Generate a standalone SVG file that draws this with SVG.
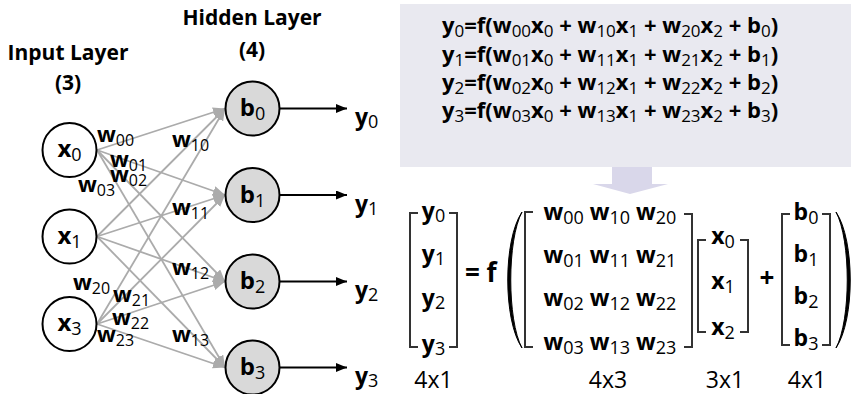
<svg xmlns="http://www.w3.org/2000/svg" width="853" height="394" viewBox="0 0 853 394">
  <style>
    text { font-family: "Open Sans", "Liberation Sans", sans-serif; font-weight: 700; fill: #000; }
    .title { font-size: 21px; }
    .node { font-size: 24px; }
    .w { font-size: 22px; }
    .eq { font-size: 22px; }
    .m { font-size: 23px; }
    .dim { font-size: 23px; font-weight: 400; }
    .s { font-size: 17px; font-weight: 400; }
    .ws { font-size: 16px; font-weight: 400; }
    .ms { font-size: 18px; font-weight: 400; }
    .inp { fill: #fff; stroke: #000; stroke-width: 2; }
    .hid { fill: #d9d9d9; stroke: #000; stroke-width: 2; }
    .edge { stroke: #ababab; stroke-width: 1.8; fill: none; }
    .out { stroke: #000; stroke-width: 1.8; fill: none; }
    .br { stroke: #333; stroke-width: 2; fill: none; }
  </style>
  <defs>
    <marker id="grayHead" markerUnits="userSpaceOnUse" markerWidth="12" markerHeight="10" refX="12" refY="5" orient="auto">
      <path d="M0,0 L12,5 L0,10 Z" fill="#ababab"/>
    </marker>
    <marker id="blackHead" markerUnits="userSpaceOnUse" markerWidth="11" markerHeight="9" refX="11" refY="4.5" orient="auto">
      <path d="M0,0 L11,4.5 L0,9 Z" fill="#000"/>
    </marker>
  </defs>

  <!-- layer titles -->
  <text class="title" x="252" y="25" text-anchor="middle">Hidden Layer</text>
  <text class="title" x="252" y="57" text-anchor="middle">(4)</text>
  <text class="title" x="68" y="60" text-anchor="middle">Input Layer</text>
  <text class="title" x="68" y="90" text-anchor="middle">(3)</text>

  <!-- weighted connections input -> hidden, and outputs -->
  <g id="connectors">
    <g class="edge" marker-end="url(#grayHead)">
      <line x1="97" y1="150" x2="225" y2="108.5"/>
      <line x1="97" y1="150" x2="225" y2="195"/>
      <line x1="97" y1="150" x2="225" y2="281.5"/>
      <line x1="97" y1="150" x2="225" y2="367.5"/>
      <line x1="97" y1="236.5" x2="225" y2="108.5"/>
      <line x1="97" y1="236.5" x2="225" y2="195"/>
      <line x1="97" y1="236.5" x2="225" y2="281.5"/>
      <line x1="97" y1="236.5" x2="225" y2="367.5"/>
      <line x1="97" y1="324" x2="225" y2="108.5"/>
      <line x1="97" y1="324" x2="225" y2="195"/>
      <line x1="97" y1="324" x2="225" y2="281.5"/>
      <line x1="97" y1="324" x2="225" y2="367.5"/>
    </g>
    <g class="out" marker-end="url(#blackHead)">
      <line x1="280" y1="108.5" x2="347" y2="108.5"/>
      <line x1="280" y1="195" x2="347" y2="195"/>
      <line x1="280" y1="281.5" x2="347" y2="281.5"/>
      <line x1="280" y1="367.5" x2="347" y2="367.5"/>
    </g>
  </g>

  <!-- weight labels -->
  <g id="weights">
    <text x="97" y="142" class="w">w<tspan class="ws" dy="4">00</tspan></text>
    <text x="172" y="147" class="w">w<tspan class="ws" dy="4">10</tspan></text>
    <text x="110" y="167" class="w">w<tspan class="ws" dy="4">01</tspan></text>
    <text x="110" y="182" class="w">w<tspan class="ws" dy="4">02</tspan></text>
    <text x="78" y="192" class="w">w<tspan class="ws" dy="4">03</tspan></text>
    <text x="172" y="215" class="w">w<tspan class="ws" dy="4">11</tspan></text>
    <text x="172" y="275" class="w">w<tspan class="ws" dy="4">12</tspan></text>
    <text x="73" y="290" class="w">w<tspan class="ws" dy="4">20</tspan></text>
    <text x="113" y="302" class="w">w<tspan class="ws" dy="4">21</tspan></text>
    <text x="112" y="325" class="w">w<tspan class="ws" dy="4">22</tspan></text>
    <text x="97" y="342" class="w">w<tspan class="ws" dy="4">23</tspan></text>
    <text x="172" y="342" class="w">w<tspan class="ws" dy="4">13</tspan></text>
  </g>

  <!-- input nodes -->
  <g id="x0"><circle class="inp" cx="69.5" cy="150" r="27"/><text class="node" x="69.5" y="157" text-anchor="middle">x<tspan class="ms" dy="4">0</tspan></text></g>
  <g id="x1"><circle class="inp" cx="69.5" cy="236.5" r="27"/><text class="node" x="69.5" y="243.5" text-anchor="middle">x<tspan class="ms" dy="4">1</tspan></text></g>
  <g id="x3"><circle class="inp" cx="69.5" cy="324" r="27"/><text class="node" x="69.5" y="331" text-anchor="middle">x<tspan class="ms" dy="4">3</tspan></text></g>

  <!-- hidden nodes -->
  <g id="b0"><circle class="hid" cx="252.5" cy="108.5" r="27"/><text class="node" x="252.5" y="116" text-anchor="middle">b<tspan class="ms" dy="4">0</tspan></text></g>
  <g id="b1"><circle class="hid" cx="252.5" cy="195" r="27"/><text class="node" x="252.5" y="202.5" text-anchor="middle">b<tspan class="ms" dy="4">1</tspan></text></g>
  <g id="b2"><circle class="hid" cx="252.5" cy="281.5" r="27"/><text class="node" x="252.5" y="289" text-anchor="middle">b<tspan class="ms" dy="4">2</tspan></text></g>
  <g id="b3"><circle class="hid" cx="252.5" cy="367.5" r="27"/><text class="node" x="252.5" y="375" text-anchor="middle">b<tspan class="ms" dy="4">3</tspan></text></g>

  <!-- outputs -->
  <g id="outputs">
    <text x="355" y="125" class="m">y<tspan class="ms" dy="3">0</tspan></text>
    <text x="355" y="211.5" class="m">y<tspan class="ms" dy="3">1</tspan></text>
    <text x="355" y="298" class="m">y<tspan class="ms" dy="3">2</tspan></text>
    <text x="355" y="384" class="m">y<tspan class="ms" dy="3">3</tspan></text>
  </g>

  <!-- equation panel -->
  <g id="equations">
    <rect x="400" y="4" width="451" height="163" fill="#e9e9f0"/>
    <text class="eq" x="442" y="33">y<tspan class="s" dy="4">0</tspan><tspan dy="-4">=f(w</tspan><tspan class="s" dy="4">00</tspan><tspan dy="-4">x</tspan><tspan class="s" dy="4">0</tspan><tspan dy="-4"> + w</tspan><tspan class="s" dy="4">10</tspan><tspan dy="-4">x</tspan><tspan class="s" dy="4">1</tspan><tspan dy="-4"> + w</tspan><tspan class="s" dy="4">20</tspan><tspan dy="-4">x</tspan><tspan class="s" dy="4">2</tspan><tspan dy="-4"> + b</tspan><tspan class="s" dy="4">0</tspan><tspan dy="-4">)</tspan></text>
    <text class="eq" x="442" y="62">y<tspan class="s" dy="4">1</tspan><tspan dy="-4">=f(w</tspan><tspan class="s" dy="4">01</tspan><tspan dy="-4">x</tspan><tspan class="s" dy="4">0</tspan><tspan dy="-4"> + w</tspan><tspan class="s" dy="4">11</tspan><tspan dy="-4">x</tspan><tspan class="s" dy="4">1</tspan><tspan dy="-4"> + w</tspan><tspan class="s" dy="4">21</tspan><tspan dy="-4">x</tspan><tspan class="s" dy="4">2</tspan><tspan dy="-4"> + b</tspan><tspan class="s" dy="4">1</tspan><tspan dy="-4">)</tspan></text>
    <text class="eq" x="442" y="90">y<tspan class="s" dy="4">2</tspan><tspan dy="-4">=f(w</tspan><tspan class="s" dy="4">02</tspan><tspan dy="-4">x</tspan><tspan class="s" dy="4">0</tspan><tspan dy="-4"> + w</tspan><tspan class="s" dy="4">12</tspan><tspan dy="-4">x</tspan><tspan class="s" dy="4">1</tspan><tspan dy="-4"> + w</tspan><tspan class="s" dy="4">22</tspan><tspan dy="-4">x</tspan><tspan class="s" dy="4">2</tspan><tspan dy="-4"> + b</tspan><tspan class="s" dy="4">2</tspan><tspan dy="-4">)</tspan></text>
    <text class="eq" x="442" y="118">y<tspan class="s" dy="4">3</tspan><tspan dy="-4">=f(w</tspan><tspan class="s" dy="4">03</tspan><tspan dy="-4">x</tspan><tspan class="s" dy="4">0</tspan><tspan dy="-4"> + w</tspan><tspan class="s" dy="4">13</tspan><tspan dy="-4">x</tspan><tspan class="s" dy="4">1</tspan><tspan dy="-4"> + w</tspan><tspan class="s" dy="4">23</tspan><tspan dy="-4">x</tspan><tspan class="s" dy="4">2</tspan><tspan dy="-4"> + b</tspan><tspan class="s" dy="4">3</tspan><tspan dy="-4">)</tspan></text>
    <polygon points="612,167 652,167 652,184 668,184 630,194 593,184 612,184" fill="#d9d7ea"/>
  </g>

  <!-- matrix form -->
  <g id="matrix">
    <!-- output vector -->
    <path class="br" d="M418,213 H410 V347 H418 M449,213 H457 V347 H449"/>
    <g text-anchor="middle">
      <text x="433.5" y="219" class="m">y<tspan class="ms" dy="3">0</tspan></text>
      <text x="433.5" y="262" class="m">y<tspan class="ms" dy="3">1</tspan></text>
      <text x="433.5" y="306" class="m">y<tspan class="ms" dy="3">2</tspan></text>
      <text x="433.5" y="352" class="m">y<tspan class="ms" dy="3">3</tspan></text>
    </g>
    <text x="465" y="282" style="font-size:26px">= f</text>

    <!-- outer parentheses -->
    <path d="M522,212 C503,240 503,320 522,348 C507,320 507,240 522,212 Z" fill="#000" stroke="#000" stroke-width="1"/>
    <path d="M836,212 C855,240 855,320 836,348 C851,320 851,240 836,212 Z" fill="#000" stroke="#000" stroke-width="1"/>

    <!-- weight matrix -->
    <path class="br" d="M533,212 H525 V347 H533 M684,214 H692 V347 H684"/>
    <g text-anchor="middle">
      <text x="610" y="220" class="m">w<tspan class="ms" dy="4">00</tspan><tspan dy="-4"> w</tspan><tspan class="ms" dy="4">10</tspan><tspan dy="-4"> w</tspan><tspan class="ms" dy="4">20</tspan></text>
      <text x="610" y="263" class="m">w<tspan class="ms" dy="4">01</tspan><tspan dy="-4"> w</tspan><tspan class="ms" dy="4">11</tspan><tspan dy="-4"> w</tspan><tspan class="ms" dy="4">21</tspan></text>
      <text x="610" y="306" class="m">w<tspan class="ms" dy="4">02</tspan><tspan dy="-4"> w</tspan><tspan class="ms" dy="4">12</tspan><tspan dy="-4"> w</tspan><tspan class="ms" dy="4">22</tspan></text>
      <text x="610" y="350" class="m">w<tspan class="ms" dy="4">03</tspan><tspan dy="-4"> w</tspan><tspan class="ms" dy="4">13</tspan><tspan dy="-4"> w</tspan><tspan class="ms" dy="4">23</tspan></text>
    </g>

    <!-- input vector -->
    <path class="br" d="M706,240 H698 V332 H706 M740,240 H748 V332 H740"/>
    <g text-anchor="middle">
      <text x="723" y="244" class="m">x<tspan class="ms" dy="4">0</tspan></text>
      <text x="723" y="289" class="m">x<tspan class="ms" dy="4">1</tspan></text>
      <text x="723" y="335" class="m">x<tspan class="ms" dy="4">2</tspan></text>
    </g>

    <text x="767" y="287" text-anchor="middle" style="font-size:26px">+</text>

    <!-- bias vector -->
    <path class="br" d="M790,214 H782 V345 H790 M822,214 H830 V345 H822"/>
    <g text-anchor="middle">
      <text x="806" y="220" class="m">b<tspan class="ms" dy="4">0</tspan></text>
      <text x="806" y="262" class="m">b<tspan class="ms" dy="4">1</tspan></text>
      <text x="806" y="304" class="m">b<tspan class="ms" dy="4">2</tspan></text>
      <text x="806" y="346" class="m">b<tspan class="ms" dy="4">3</tspan></text>
    </g>

    <!-- dimensions -->
    <text class="dim" x="433.5" y="388" text-anchor="middle">4x1</text>
    <text class="dim" x="608" y="388" text-anchor="middle">4x3</text>
    <text class="dim" x="725" y="388" text-anchor="middle">3x1</text>
    <text class="dim" x="807" y="388" text-anchor="middle">4x1</text>
  </g>
</svg>
